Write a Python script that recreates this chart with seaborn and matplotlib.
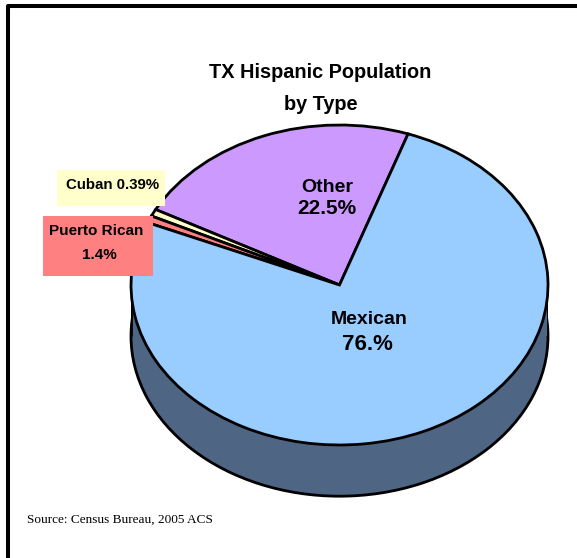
import matplotlib
matplotlib.use("Agg")
import matplotlib.pyplot as plt
from matplotlib.patches import Rectangle
import seaborn as sns

# share of Texas Hispanic population, 2005, as printed on the labels
categories = ["Other", "Cuban", "Puerto Rican", "Mexican"]
label_values = [22.5, 0.39, 1.4, 76.0]
# slice sizes as drawn in the picture: the two thin slices are equally wide there
slice_values = [22.5, 0.72, 0.72, 76.0]
colors = ["#CC99FF", "#FFFFCC", "#FF8080", "#99CCFF"]
side_color = "#4F6584"
depth = 0.32  # height of the pie side, in units of the vertical radius

W, H = 577, 558


def px_axes(fig, left, top, right, bottom):
    return fig.add_axes([left / W, 1 - bottom / H, (right - left) / W, (bottom - top) / H])


sns.set_theme(style="white")
plt.rcParams["font.family"] = ["Liberation Sans", "DejaVu Sans"]

fig = plt.figure(figsize=(W / 100, H / 100), dpi=100, facecolor="white")

# full-figure axes in pixels for the frame
bg = px_axes(fig, 0, 0, W, H)
bg.set_xlim(0, W)
bg.set_ylim(H, 0)
bg.axis("off")
bg.plot([7.7, 7.7, W + 5], [H + 5, 6, 6], color="black", lw=2.9, solid_capstyle="butt")

# squashed pie axes: unit circle becomes the ellipse of the 3D look
ax = px_axes(fig, 131, 125, 548, 445)
ax.patch.set_alpha(0)
edge = {"edgecolor": "black", "linewidth": 2}
ax.pie([1], colors=[side_color], center=(0, -depth), radius=1, startangle=0,
       wedgeprops=edge, normalize=True)
ax.add_patch(Rectangle((-1, -depth), 2, depth, facecolor=side_color, edgecolor="none", zorder=2))
ax.vlines([-1, 1], -depth, 0, color="black", lw=2, zorder=2)
wedges, _ = ax.pie(slice_values, colors=colors, startangle=70.8, counterclock=True,
                   wedgeprops=edge, normalize=True)
for w in wedges:
    w.set_zorder(3)
ax.set_aspect("auto")
ax.set_xlim(-1, 1)
ax.set_ylim(-1, 1)
ax.axis("off")
for a in ax.patches:
    a.set_clip_on(False)

# text on top of everything
top = px_axes(fig, 0, 0, W, H)
top.set_xlim(0, W)
top.set_ylim(H, 0)
top.axis("off")
top.patch.set_alpha(0)

top.add_patch(Rectangle((57, 170), 108, 36, facecolor=colors[1], edgecolor="none"))
top.add_patch(Rectangle((43, 216), 110, 60, facecolor=colors[2], edgecolor="none"))


def label(x, y, s, size):
    top.text(x, y, s, fontsize=size, fontweight="bold", ha="center", va="center", color="black")


label(320.5, 72, "TX Hispanic Population", 14.3)
label(320.5, 104, "by Type", 14.3)
label(327, 187, categories[0], 14)
label(327, 209, f"{label_values[0]}%", 15)
label(369.5, 320, categories[3], 14)
label(367, 344, f"{label_values[3]:.0f}.%", 16)
label(113, 185, f"{categories[1]} {label_values[1]}%", 10.8)
label(96.5, 231, categories[2], 11)
label(99, 255, f"{label_values[2]}%", 11)
top.text(27, 520, "Source: Census Bureau, 2005 ACS", fontsize=9.5, family="Liberation Serif",
         ha="left", va="center", color="black")

fig.savefig("out.png", dpi=100, facecolor="white")
